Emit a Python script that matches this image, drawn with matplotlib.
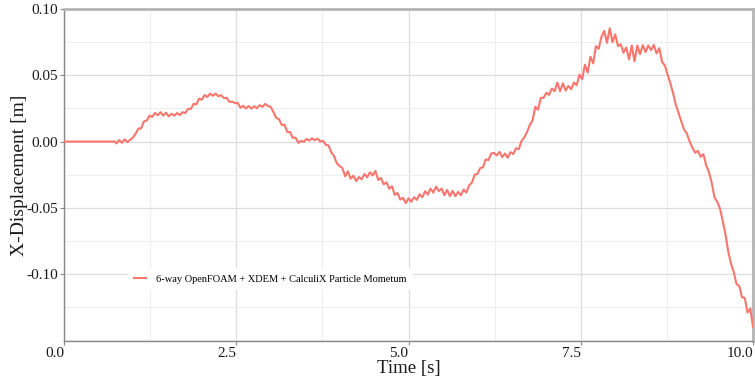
import matplotlib
matplotlib.use("Agg")
import matplotlib.pyplot as plt
from matplotlib.ticker import MultipleLocator, FixedLocator

plt.rcParams['font.family'] = ['Liberation Serif', 'DejaVu Serif']

series_label = "6-way OpenFOAM + XDEM + CalculiX Particle Mometum"

time_s = [
    0.00, 0.74,
    0.76, 0.80, 0.84, 0.88, 0.92, 0.96, 1.00, 1.04, 1.08, 1.12,
    1.16, 1.20, 1.24, 1.28, 1.32, 1.36, 1.40, 1.44, 1.48, 1.52,
    1.56, 1.60, 1.64, 1.68, 1.72, 1.76, 1.80, 1.84, 1.88, 1.92,
    1.96, 2.00, 2.04, 2.08, 2.12, 2.16, 2.20, 2.24, 2.28, 2.32,
    2.36, 2.40, 2.44, 2.48, 2.52, 2.56, 2.60, 2.64, 2.68, 2.72,
    2.76, 2.80, 2.84, 2.88, 2.92, 2.96, 3.00, 3.04, 3.08, 3.12,
    3.16, 3.20, 3.24, 3.28, 3.32, 3.36, 3.40, 3.44, 3.48, 3.52,
    3.56, 3.60, 3.64, 3.68, 3.72, 3.76, 3.80, 3.84, 3.88, 3.92,
    3.96, 4.00, 4.04, 4.08, 4.12, 4.16, 4.20, 4.24, 4.28, 4.32,
    4.36, 4.40, 4.44, 4.48, 4.52, 4.56, 4.60, 4.64, 4.68, 4.72,
    4.76, 4.80, 4.84, 4.88, 4.92, 4.96, 5.00, 5.04, 5.08, 5.12,
    5.16, 5.20, 5.24, 5.28, 5.32, 5.36, 5.40, 5.44, 5.48, 5.52,
    5.56, 5.60, 5.64, 5.68, 5.72, 5.76, 5.80, 5.84, 5.88, 5.92,
    5.96, 6.00, 6.04, 6.08, 6.12, 6.16, 6.20, 6.24, 6.28, 6.32,
    6.36, 6.40, 6.44, 6.48, 6.52, 6.56, 6.60, 6.64, 6.68, 6.72,
    6.76, 6.80, 6.84, 6.88, 6.92, 6.96, 7.00, 7.04, 7.08, 7.12,
    7.16, 7.20, 7.24, 7.28, 7.32, 7.36, 7.40, 7.44, 7.48, 7.52,
    7.56, 7.60, 7.64, 7.68, 7.72, 7.76, 7.80, 7.84, 7.88, 7.92,
    7.96, 8.00, 8.04, 8.08, 8.12, 8.16, 8.20, 8.24, 8.28, 8.32,
    8.36, 8.40, 8.44, 8.48, 8.52, 8.56, 8.60, 8.64, 8.68, 8.72,
    8.76, 8.80, 8.84, 8.88, 8.92, 8.96, 9.00, 9.04, 9.08, 9.12,
    9.16, 9.20, 9.24, 9.28, 9.32, 9.36, 9.40, 9.44, 9.48, 9.52,
    9.56, 9.60, 9.64, 9.68, 9.72, 9.76, 9.80, 9.84, 9.88, 9.92,
    9.96, 10.00,
]

x_displacement_m = [
    0.0, 0.0,
    -0.0014, 0.0011, -0.0009, 0.0017, -0.0004, 0.0013, 0.0030, 0.0060, 0.0098, 0.0100,
    0.0152, 0.0158, 0.0195, 0.0186, 0.0216, 0.0198, 0.0222, 0.0196, 0.0218, 0.0190,
    0.0210, 0.0195, 0.0215, 0.0200, 0.0222, 0.0215, 0.0247, 0.0246, 0.0284, 0.0280,
    0.0324, 0.0316, 0.0352, 0.0336, 0.0362, 0.0345, 0.0362, 0.0342, 0.0350, 0.0328,
    0.0330, 0.0300, 0.0302, 0.0290, 0.0292, 0.0255, 0.0270, 0.0250, 0.0268, 0.0248,
    0.0266, 0.0252, 0.0275, 0.0262, 0.0284, 0.0268, 0.0262, 0.0222, 0.0178, 0.0170,
    0.0125, 0.0128, 0.0073, 0.0072, 0.0028, 0.0030, -0.0010, 0.0005, -0.0002, 0.0020,
    0.0008, 0.0024, 0.0010, 0.0022, 0.0000, 0.0005, -0.0025, -0.0030, -0.0082, -0.0110,
    -0.0165, -0.0185, -0.0200, -0.0262, -0.0225, -0.0280, -0.0258, -0.0298, -0.0268, -0.0285,
    -0.0245, -0.0270, -0.0232, -0.0255, -0.0222, -0.0290, -0.0274, -0.0323, -0.0307, -0.0356,
    -0.0337, -0.0403, -0.0387, -0.0438, -0.0425, -0.0465, -0.0428, -0.0455, -0.0420, -0.0440,
    -0.0398, -0.0420, -0.0375, -0.0400, -0.0355, -0.0385, -0.0340, -0.0375, -0.0355, -0.0405,
    -0.0365, -0.0412, -0.0372, -0.0412, -0.0380, -0.0405, -0.0362, -0.0385, -0.0330, -0.0310,
    -0.0250, -0.0245, -0.0200, -0.0195, -0.0135, -0.0140, -0.0090, -0.0085, -0.0105, -0.0078,
    -0.0118, -0.0090, -0.0122, -0.0080, -0.0095, -0.0050, -0.0058, 0.0005, 0.0030, 0.0072,
    0.0125, 0.0160, 0.0263, 0.0240, 0.0330, 0.0330, 0.0368, 0.0352, 0.0400, 0.0380,
    0.0445, 0.0380, 0.0440, 0.0385, 0.0420, 0.0395, 0.0445, 0.0425, 0.0505, 0.0470,
    0.0580, 0.0520, 0.0640, 0.0590, 0.0720, 0.0700, 0.0790, 0.0835, 0.0745, 0.0855,
    0.0750, 0.0810, 0.0720, 0.0735, 0.0670, 0.0710, 0.0620, 0.0725, 0.0605, 0.0725,
    0.0660, 0.0728, 0.0675, 0.0725, 0.0690, 0.0730, 0.0665, 0.0705, 0.0600, 0.0575,
    0.0505, 0.0440, 0.0365, 0.0275, 0.0215, 0.0150, 0.0090, 0.0060, 0.0000, -0.0045,
    -0.0085, -0.0070, -0.0115, -0.0095, -0.0180, -0.0230, -0.0310, -0.0420, -0.0455, -0.0505,
    -0.0600, -0.0700, -0.0830, -0.0920, -0.0985, -0.1075, -0.1090, -0.1175, -0.1180, -0.1290,
    -0.1260, -0.1400,
]

x_ticks = [0.0, 2.5, 5.0, 7.5, 10.0]
x_tick_labels = ["0.0", "2.5", "5.0", "7.5", "10.0"]
y_ticks = [-0.10, -0.05, 0.00, 0.05, 0.10]
y_tick_labels = ["-0.10", "-0.05", "0.00", "0.05", "0.10"]

assert len(time_s) == len(x_displacement_m)

fig = plt.figure(figsize=(7.55, 3.78), dpi=100)
ax = fig.add_axes([0.0848, 0.098, 0.9126, 0.878])

ax.plot(time_s, x_displacement_m, color="#F8766D", lw=1.5, label=series_label,
        solid_joinstyle="round", zorder=3)

ax.set_xlim(0, 10)
ax.set_ylim(-0.1505, 0.10)

ax.xaxis.set_major_locator(FixedLocator(x_ticks))
ax.set_xticklabels(x_tick_labels, ha="right")
ax.yaxis.set_major_locator(FixedLocator(y_ticks))
ax.set_yticklabels(y_tick_labels)
ax.xaxis.set_minor_locator(MultipleLocator(1.25))
ax.yaxis.set_minor_locator(MultipleLocator(0.025))

ax.grid(which="major", color="#dddddd", lw=0.9, zorder=0)
ax.grid(which="minor", color="#eeeeee", lw=0.8, zorder=0)
ax.set_axisbelow(True)

ax.tick_params(axis="both", which="major", labelsize=11, length=3, width=0.8,
               color="#888888", labelcolor="#1a1a1a", pad=1)
ax.tick_params(axis="both", which="minor", length=0)

for side in ["left", "bottom"]:
    ax.spines[side].set_color("#888888")
    ax.spines[side].set_linewidth(1.0)
for side in ["top", "right"]:
    ax.spines[side].set_color("#b5b5b5")
    ax.spines[side].set_linewidth(2.0)

ax.set_xlabel("Time [s]", fontsize=13.5, color="#1a1a1a", labelpad=0)
ax.set_ylabel("X-Displacement [m]", fontsize=14, color="#1a1a1a", labelpad=-1)

leg = ax.legend(loc="center left", bbox_to_anchor=(0.093, 0.187), frameon=True,
                fontsize=7.5, handlelength=1.15, handletextpad=0.95,
                borderpad=0.6, borderaxespad=0)
leg.get_frame().set_facecolor("white")
leg.get_frame().set_edgecolor("none")
leg.get_frame().set_alpha(1.0)
leg.get_frame().set_boxstyle("square", pad=0)

fig.savefig("out.png", dpi=100)
